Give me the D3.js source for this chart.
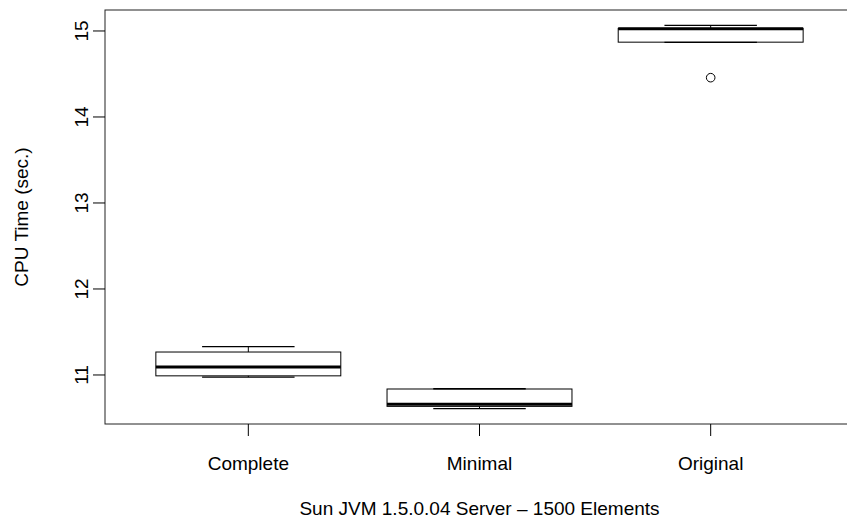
<!DOCTYPE html>
<html>
<head>
<meta charset="utf-8">
<script src="https://cdn.jsdelivr.net/npm/d3@7"></script>
<style>
  body { margin: 0; background: #fff; }
  svg { display: block; font-family: "Liberation Sans", Arial, Helvetica, sans-serif; }
</style>
</head>
<body>
<svg id="chart"></svg>
<script>
const width = 847, height = 523;

// values
const categories = ["Complete", "Minimal", "Original"];
const lowerWhisker = [10.975, 10.608, 14.868];
const q1 = [10.99, 10.635, 14.87];
const median = [11.093, 10.659, 15.025];
const q3 = [11.267, 10.837, 15.03];
const upperWhisker = [11.329, 10.84, 15.066];
const outliers = [[], [], [14.457]];
const yTicks = [11, 12, 13, 14, 15];
const xTitle = "Sun JVM 1.5.0.04 Server \u2013 1500 Elements";
const yTitle = "CPU Time (sec.)";

const svg = d3.select('#chart').attr('width', width).attr('height', height);

// plot region, R style: 4% padding on each side
const pLeft = 105, pRight = 854, pTop = 10, pBottom = 424;
const x = d3.scaleLinear().domain([0.38, 3.62]).range([pLeft, pRight]);
const y = d3.scaleLinear().domain([10.43, 15.244]).range([pBottom, pTop]);
const boxHalf = 0.4, stapleHalf = 0.2;
const fs = 19;

const boxes = categories.map((c, i) => ({
    name: c, pos: i + 1,
    lo: lowerWhisker[i], q1: q1[i], med: median[i], q3: q3[i], hi: upperWhisker[i],
    out: outliers[i]
}));

const g = svg.append('g');

const b = g.selectAll('.box').data(boxes).join('g').attr('class', 'box');

// whiskers
b.append('line')
    .attr('x1', d => x(d.pos)).attr('x2', d => x(d.pos))
    .attr('y1', d => y(d.hi)).attr('y2', d => y(d.q3))
    .attr('stroke', '#000').attr('stroke-width', 1);
b.append('line')
    .attr('x1', d => x(d.pos)).attr('x2', d => x(d.pos))
    .attr('y1', d => y(d.q1)).attr('y2', d => y(d.lo))
    .attr('stroke', '#000').attr('stroke-width', 1);
// staples
b.selectAll('.staple').data(d => [[d.pos, d.hi], [d.pos, d.lo]]).join('line')
    .attr('class', 'staple')
    .attr('x1', d => x(d[0] - stapleHalf)).attr('x2', d => x(d[0] + stapleHalf))
    .attr('y1', d => y(d[1])).attr('y2', d => y(d[1]))
    .attr('stroke', '#000').attr('stroke-width', 1.3);
// box
b.append('rect')
    .attr('x', d => x(d.pos - boxHalf))
    .attr('width', d => x(d.pos + boxHalf) - x(d.pos - boxHalf))
    .attr('y', d => y(d.q3))
    .attr('height', d => y(d.q1) - y(d.q3))
    .attr('fill', 'none').attr('stroke', '#000').attr('stroke-width', 1);
// median
b.append('line')
    .attr('x1', d => x(d.pos - boxHalf)).attr('x2', d => x(d.pos + boxHalf))
    .attr('y1', d => y(d.med)).attr('y2', d => y(d.med))
    .attr('stroke', '#000').attr('stroke-width', 3);
// outliers
b.selectAll('circle').data(d => d.out.map(v => [d.pos, v])).join('circle')
    .attr('cx', d => x(d[0])).attr('cy', d => y(d[1]))
    .attr('r', 4.3).attr('fill', 'none').attr('stroke', '#000').attr('stroke-width', 1);

// frame
svg.append('rect')
    .attr('x', pLeft).attr('y', pTop)
    .attr('width', pRight - pLeft).attr('height', pBottom - pTop)
    .attr('fill', 'none').attr('stroke', '#222').attr('stroke-width', 1);

// y axis
const yAxis = svg.append('g');
yAxis.selectAll('line').data(yTicks).join('line')
    .attr('x1', pLeft - 12).attr('x2', pLeft)
    .attr('y1', d => y(d)).attr('y2', d => y(d))
    .attr('stroke', '#000');
yAxis.selectAll('text').data(yTicks).join('text')
    .attr('transform', d => `translate(${pLeft - 17},${y(d)}) rotate(-90)`)
    .attr('text-anchor', 'middle')
    .attr('font-size', fs)
    .text(d => d);

// x axis
const xAxis = svg.append('g');
xAxis.selectAll('line').data(boxes).join('line')
    .attr('x1', d => x(d.pos)).attr('x2', d => x(d.pos))
    .attr('y1', pBottom).attr('y2', pBottom + 12)
    .attr('stroke', '#000');
xAxis.selectAll('text').data(boxes).join('text')
    .attr('x', d => x(d.pos)).attr('y', pBottom + 46)
    .attr('text-anchor', 'middle')
    .attr('font-size', fs)
    .text(d => d.name);

svg.append('text')
    .attr('x', (pLeft + pRight) / 2).attr('y', 515)
    .attr('text-anchor', 'middle').attr('font-size', fs)
    .text(xTitle);
svg.append('text')
    .attr('transform', `translate(28,${(pTop + pBottom) / 2}) rotate(-90)`)
    .attr('text-anchor', 'middle').attr('font-size', fs)
    .text(yTitle);
</script>
</body>
</html>
